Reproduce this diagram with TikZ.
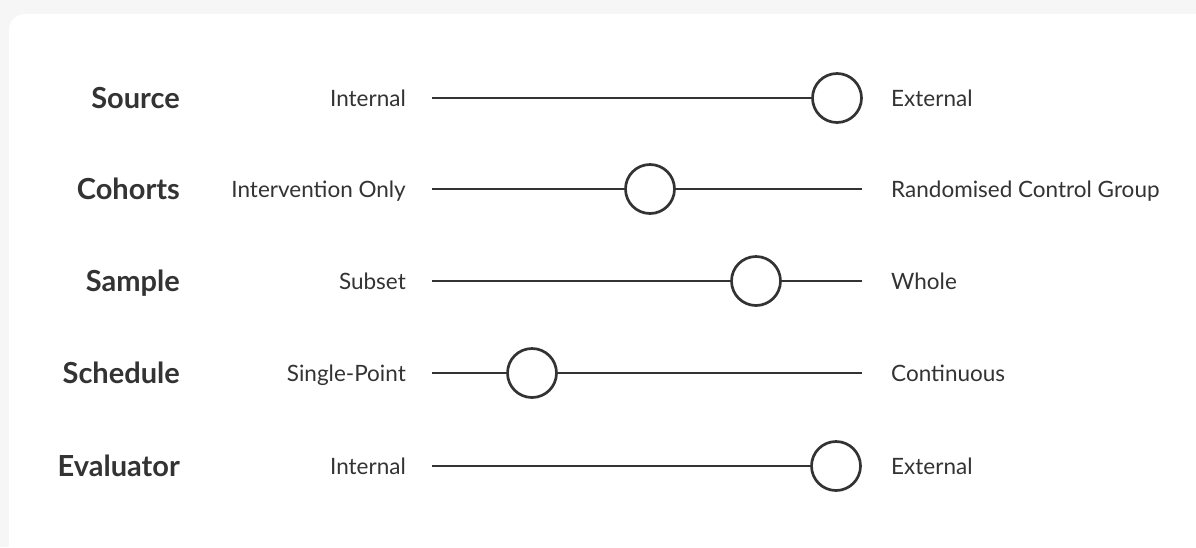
\documentclass[tikz,border=0pt]{standalone}
\usepackage{fontspec}
\setmainfont{Lato}
\definecolor{ink}{HTML}{333333}
\definecolor{page}{HTML}{F6F6F6}
\tikzset{
  rowlabel/.style = {anchor=base east, inner sep=0pt, text=ink, font=\fontsize{29}{32}\selectfont\bfseries},
  lefttext/.style = {anchor=base east, inner sep=0pt, text=ink, font=\fontsize{22.5}{26}\selectfont},
  righttext/.style = {anchor=base west, inner sep=0pt, text=ink, font=\fontsize{22.5}{26}\selectfont},
  knob/.style = {circle, draw=ink, line width=2.7pt, fill=white, minimum size=49pt, inner sep=0pt},
  track/.style = {draw=ink, line width=2.5pt}
}
\begin{document}
\begin{tikzpicture}[x=1pt, y=-1pt]
	\useasboundingbox (0,0) rectangle (1196,547);
	\fill[page] (0,0) rectangle (1196,547);
	\fill[white, rounded corners=16pt] (9,14) rectangle (1230,580);
	% one row per slider: name/y/label/left end/right end/knob position
	\foreach \name/\y/\lbl/\lo/\hi/\k in {src/98/Source/Internal/External/837,
			coh/189/Cohorts/Intervention Only/Randomised Control Group/650,
			smp/281/Sample/Subset/Whole/756,
			sch/373/Schedule/Single-Point/Continuous/532,
			evl/466/Evaluator/Internal/External/836}{
		\node[rowlabel] (\name-label) at (180,\y+10.5) {\lbl};
		\node[lefttext] (\name-lo) at (406,\y+8) {\lo};
		\node[righttext] (\name-hi) at (891,\y+8) {\hi};
		\coordinate (\name-a) at (432,\y);
		\coordinate (\name-b) at (862,\y);
		\draw[track] (\name-a) -- (\name-b);
		\node[knob] (\name-knob) at (\k,\y) {};
	}
\end{tikzpicture}
\end{document}
